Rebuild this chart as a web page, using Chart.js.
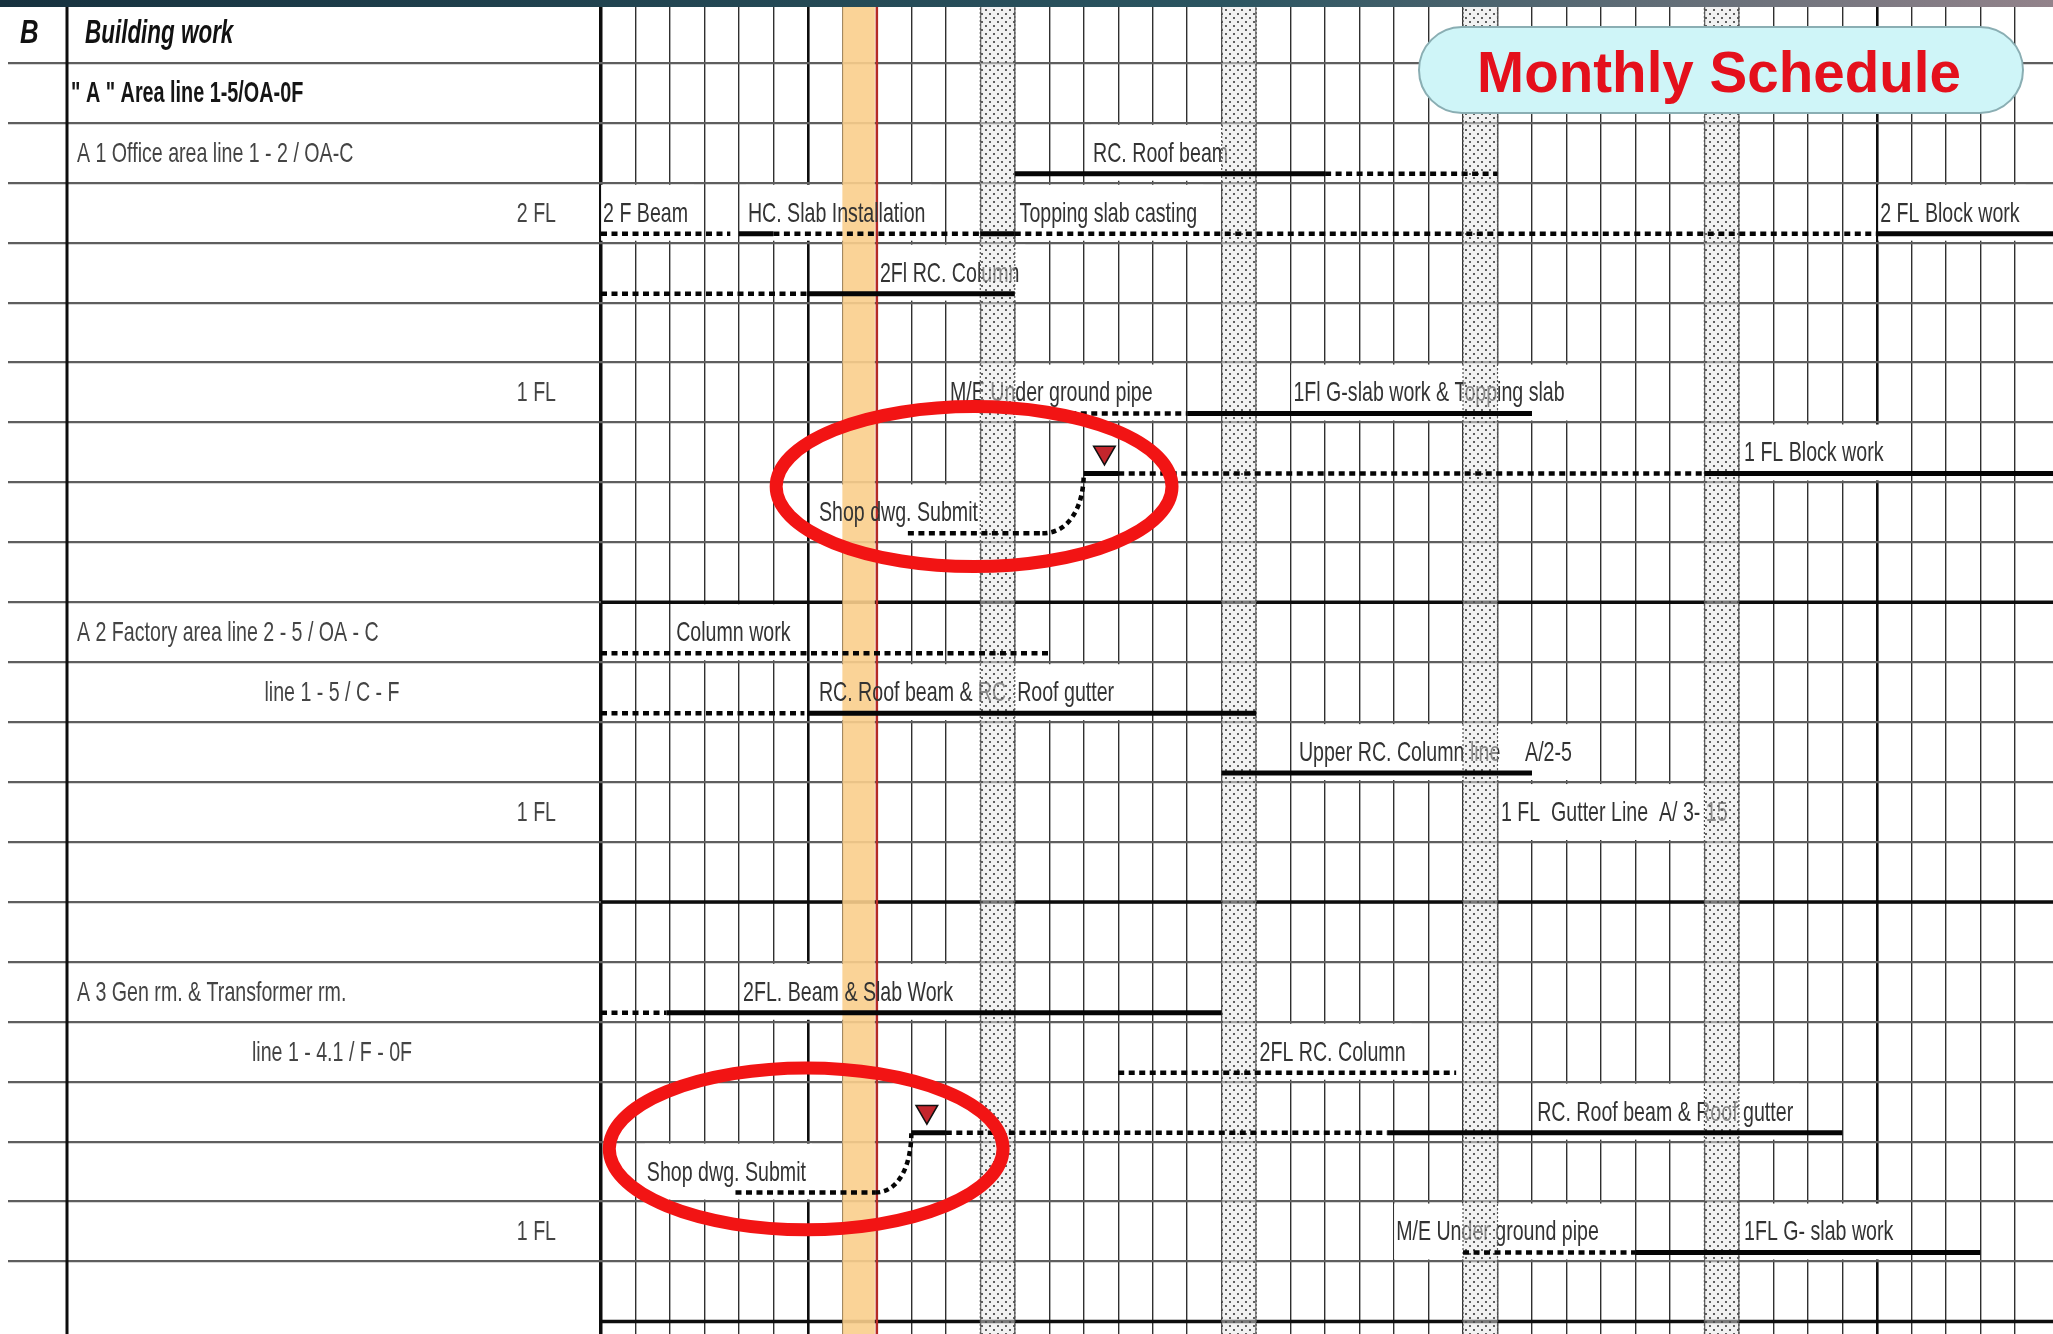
<!DOCTYPE html>
<html>
<head>
<meta charset="utf-8">
<title>Monthly Schedule</title>
<script src="https://cdn.jsdelivr.net/npm/chart.js@4.4.1/dist/chart.umd.min.js"></script>
<style>
    html, body { margin: 0; padding: 0; background: #fff; }
    canvas { display: block; }
</style>
</head>
<body>
<canvas id="schedule" width="2053" height="1334"></canvas>
<script>
// left table, one entry per row (top to bottom)
const sectionCode = "B";
const rowNames = [
    "Building work",
    '" A " Area line 1-5/OA-0F',
    "A 1 Office area line 1 - 2 / OA-C",
    "2 FL", "", "", "1 FL", "", "", "",
    "A 2 Factory area line 2 - 5 / OA - C",
    "line 1 - 5 / C - F",
    "", "1 FL", "", "",
    "A 3 Gen rm. & Transformer rm.",
    "line 1 - 4.1 / F - 0F",
    "", "", "1 FL", ""
];

// day columns: 0 = first column on the sheet
const monthStarts = [0, 6, 37];
const holidayCols = [11, 18, 25, 32];
const todayCol = 7;

// [row, from day, to day]
const solidBars = [
    [2, 12, 21], [3, 4, 5], [3, 11, 12], [3, 37, 42.5], [4, 6, 12],
    [6, 17, 27], [7, 14, 15], [7, 32, 42.5], [11, 6, 19], [12, 18, 27],
    [16, 1.9, 18], [18, 9, 10], [18, 22.8, 36], [20, 30, 40]
];
const dottedBars = [
    [2, 21, 26], [3, 0, 3.75], [3, 5, 11], [3, 12, 37], [4, 0, 6],
    [6, 13, 17], [7, 15, 32], [8, 8.9, 12.8], [10, 0, 13], [11, 0, 5.9],
    [16, 0, 1.9], [17, 15, 24.8], [18, 10, 22.8], [19, 3.9, 7.95], [20, 25, 30]
];

// [row, day, text]
const taskNotes = [
    [2, 14.27, "RC. Roof beam"],
    [3, 0.06, "2 F Beam"],
    [3, 4.26, "HC. Slab Installation"],
    [3, 12.14, "Topping slab casting"],
    [3, 37.1, "2 FL Block work"],
    [4, 8.09, "2Fl RC. Column"],
    [6, 10.12, "M/E Under ground pipe"],
    [6, 20.08, "1Fl G-slab work & Topping slab"],
    [7, 33.15, "1 FL Block work"],
    [8, 6.32, "Shop dwg. Submit"],
    [10, 2.18, "Column work"],
    [11, 6.32, "RC. Roof beam & RC. Roof gutter"],
    [12, 20.24, "Upper RC. Column line"],
    [12, 26.8, "A/2-5"],
    [13, 26.1, "1 FL  Gutter Line  A/ 3- 15"],
    [16, 4.12, "2FL. Beam & Slab Work"],
    [17, 19.1, "2FL RC. Column"],
    [18, 27.15, "RC. Roof beam & Roof gutter"],
    [19, 1.33, "Shop dwg. Submit"],
    [20, 23.06, "M/E Under ground pipe"],
    [20, 33.15, "1FL G- slab work"]
];

// [row, day]
const milestones = [[7, 14.6], [18, 9.45]];
// [from row, from day, to row, to day]
const links = [[8, 12.8, 7, 14], [19, 7.95, 18, 9]];
// [centre day, centre row, half width (days), half height (rows)]
const callouts = [[10.82, 8.07, 5.74, 1.335], [5.95, 19.12, 5.71, 1.35]];
const titleText = "Monthly Schedule";

const X_MIN = -17.43, X_MAX = 42.11;
const Y_MIN = -0.05, Y_MAX = 22.21;
const BAR_AT = 0.85, NOTE_AT = 0.52, MARK_AT = 0.5;

const NOTE_FONT = "28px 'Liberation Sans', Arial, sans-serif";
const SQUEEZE = 0.7;

function isWhole(v) {
    return Math.abs(v - Math.round(v)) < 1e-6;
}

function squeezeText(ctx, text, x, y, font, color, squeeze, align) {
    ctx.save();
    ctx.font = font;
    ctx.fillStyle = color;
    ctx.textBaseline = "middle";
    ctx.textAlign = "left";
    const w = ctx.measureText(text).width * squeeze;
    let left = x;
    if (align === "right") left = x - w;
    if (align === "center") left = x - w / 2;
    ctx.translate(left, y);
    ctx.scale(squeeze, 1);
    ctx.fillText(text, 0, 0);
    ctx.restore();
    return w;
}

function makeStipple() {
    const tile = document.createElement("canvas");
    tile.width = 8;
    tile.height = 8;
    const t = tile.getContext("2d");
    t.fillStyle = "rgba(230,230,230,0.5)";
    t.fillRect(0, 0, 8, 8);
    t.fillStyle = "rgba(70,70,70,0.85)";
    t.fillRect(1, 1, 2, 2);
    t.fillRect(5, 5, 2, 2);
    return tile;
}

const scheduleDecor = {
    id: "scheduleDecor",
    beforeDatasetsDraw(chart) {
        const ctx = chart.ctx;
        const xs = chart.scales.x;
        const ys = chart.scales.y;
        const W = chart.width, H = chart.height;
        const x0 = xs.getPixelForValue(0);

        ctx.save();
        // blank margin left of the table
        ctx.fillStyle = "#fff";
        ctx.fillRect(0, 0, 8, H);

        // heavy separators between the areas
        ctx.strokeStyle = "#0d0d0d";
        ctx.lineWidth = 3.5;
        [10, 15, 22].forEach((r) => {
            const y = ys.getPixelForValue(r);
            ctx.beginPath();
            ctx.moveTo(x0, y);
            ctx.lineTo(W, y);
            ctx.stroke();
        });
        // table column divider
        ctx.lineWidth = 3;
        ctx.beginPath();
        ctx.moveTo(67, 0);
        ctx.lineTo(67, H);
        ctx.stroke();

        // white text boxes behind the task notes
        ctx.font = NOTE_FONT;
        taskNotes.forEach(([row, day, text]) => {
            const w = ctx.measureText(text).width * SQUEEZE;
            const left = xs.getPixelForValue(day) - 2;
            const top = ys.getPixelForValue(row) + 2;
            const bottom = ys.getPixelForValue(row + 1) - 2;
            ctx.fillStyle = "#fff";
            ctx.fillRect(left, top, w + 8, bottom - top);
        });

        // today column
        const tl = xs.getPixelForValue(todayCol);
        const tr = xs.getPixelForValue(todayCol + 1);
        ctx.fillStyle = "rgba(250, 206, 140, 0.9)";
        ctx.fillRect(tl, 0, tr - tl - 2, H);
        ctx.strokeStyle = "#b52a25";
        ctx.lineWidth = 2.5;
        ctx.beginPath();
        ctx.moveTo(tr, 0);
        ctx.lineTo(tr, H);
        ctx.stroke();
        ctx.restore();

        // left table texts
        squeezeText(ctx, sectionCode, 20, ys.getPixelForValue(NOTE_AT),
            "italic bold 33px 'Liberation Sans', Arial, sans-serif", "#111", 0.78, "left");
        rowNames.forEach((name, row) => {
            if (!name) return;
            const y = ys.getPixelForValue(row + NOTE_AT);
            if (row === 0) {
                squeezeText(ctx, name, 85, y,
                    "italic bold 33px 'Liberation Sans', Arial, sans-serif", "#111", 0.68, "left");
            } else if (name.startsWith('"')) {
                squeezeText(ctx, name, 71, y,
                    "bold 30px 'Liberation Sans', Arial, sans-serif", "#151515", 0.66, "left");
            } else if (name.startsWith("line")) {
                squeezeText(ctx, name, 332, y, NOTE_FONT, "#444", SQUEEZE, "center");
            } else if (name.endsWith("FL")) {
                squeezeText(ctx, name, 556, y, NOTE_FONT, "#444", SQUEEZE, "right");
            } else {
                squeezeText(ctx, name, 77, y, NOTE_FONT, "#444", SQUEEZE, "left");
            }
        });

        // task notes
        taskNotes.forEach(([row, day, text]) => {
            squeezeText(ctx, text, xs.getPixelForValue(day), ys.getPixelForValue(row + NOTE_AT),
                NOTE_FONT, "#333", SQUEEZE, "left");
        });

        // holiday columns (stippled)
        ctx.save();
        const pattern = ctx.createPattern(makeStipple(), "repeat");
        holidayCols.forEach((c) => {
            const l = xs.getPixelForValue(c);
            const r = xs.getPixelForValue(c + 1);
            ctx.fillStyle = pattern;
            ctx.fillRect(l, 0, r - l, H);
            ctx.strokeStyle = "#555";
            ctx.lineWidth = 1.2;
            ctx.setLineDash([2, 2]);
            [l, r].forEach((x) => {
                ctx.beginPath();
                ctx.moveTo(x, 0);
                ctx.lineTo(x, H);
                ctx.stroke();
            });
        });
        ctx.restore();
    },
    afterDatasetsDraw(chart) {
        const ctx = chart.ctx;
        const xs = chart.scales.x;
        const ys = chart.scales.y;
        const W = chart.width;

        ctx.save();
        // links from shop drawing submission to the following work
        ctx.strokeStyle = "#050505";
        ctx.lineWidth = 4.5;
        ctx.setLineDash([5, 4]);
        links.forEach(([r1, d1, r2, d2]) => {
            const x1 = xs.getPixelForValue(d1), y1 = ys.getPixelForValue(r1 + BAR_AT);
            const x2 = xs.getPixelForValue(d2), y2 = ys.getPixelForValue(r2 + BAR_AT);
            ctx.beginPath();
            ctx.moveTo(x1, y1);
            ctx.bezierCurveTo(x1 + (x2 - x1) * 0.65, y1, x2, y1 + (y2 - y1) * 0.45, x2, y2);
            ctx.stroke();
        });
        ctx.setLineDash([]);

        // red callout rings
        ctx.strokeStyle = "#f21414";
        ctx.lineWidth = 13;
        callouts.forEach(([d, r, hw, hh]) => {
            const cx = xs.getPixelForValue(d), cy = ys.getPixelForValue(r);
            const rx = Math.abs(xs.getPixelForValue(d + hw) - cx);
            const ry = Math.abs(ys.getPixelForValue(r + hh) - cy);
            ctx.beginPath();
            ctx.ellipse(cx, cy, rx, ry, 0, 0, Math.PI * 2);
            ctx.stroke();
        });

        // title badge
        const bx = 1419, by = 27, bw = 604, bh = 86;
        ctx.beginPath();
        ctx.roundRect(bx, by, bw, bh, bh / 2);
        ctx.fillStyle = "#cff5f8";
        ctx.fill();
        ctx.strokeStyle = "#8aaeb3";
        ctx.lineWidth = 2;
        ctx.stroke();
        ctx.restore();
        ctx.save();
        ctx.font = "bold 58px 'Liberation Sans', Arial, sans-serif";
        ctx.fillStyle = "#e4101c";
        ctx.textBaseline = "alphabetic";
        const tw = ctx.measureText(titleText).width * 0.975;
        ctx.translate(bx + bw / 2 - tw / 2 - 2, 92);
        ctx.scale(0.975, 1);
        ctx.fillText(titleText, 0, 0);
        ctx.restore();

        // slide header strip
        ctx.save();
        const g = ctx.createLinearGradient(0, 0, W, 0);
        g.addColorStop(0, "#17323f");
        g.addColorStop(0.6, "#2b5561");
        g.addColorStop(1, "#93838b");
        ctx.fillStyle = g;
        ctx.fillRect(0, 0, W, 7);
        ctx.restore();
    }
};

const datasets = [];
solidBars.forEach(([row, from, to]) => {
    datasets.push({
        label: "work",
        data: [{ x: from, y: row + BAR_AT }, { x: to, y: row + BAR_AT }],
        borderColor: "#050505",
        borderWidth: 5,
        borderCapStyle: "butt",
        pointRadius: 0,
        fill: false,
    });
});
dottedBars.forEach(([row, from, to]) => {
    datasets.push({
        label: "revised",
        data: [{ x: from, y: row + BAR_AT }, { x: to, y: row + BAR_AT }],
        borderColor: "#050505",
        borderWidth: 4.5,
        borderDash: [6, 4.5],
        borderCapStyle: "butt",
        pointRadius: 0,
        fill: false,
    });
});
datasets.push({
    type: "scatter",
    label: "submit",
    data: milestones.map(([row, day]) => ({ x: day, y: row + MARK_AT })),
    pointStyle: "triangle",
    pointRotation: 180,
    pointRadius: 12.5,
    pointBackgroundColor: "#c3262d",
    pointBorderColor: "#111",
    pointBorderWidth: 1.5,
});

new Chart(document.getElementById("schedule").getContext("2d"), {
    type: "line",
    data: { datasets },
    options: {
        responsive: false,
        animation: false,
        layout: { padding: 0, autoPadding: false },
        plugins: {
            legend: { display: false },
            tooltip: { enabled: false },
            title: { display: false },
        },
        scales: {
            x: {
                type: "linear",
                min: X_MIN,
                max: X_MAX,
                afterFit: (scale) => { scale.height = 0; },
                ticks: { display: false, stepSize: 1 },
                border: { display: false },
                grid: {
                    drawTicks: false,
                    color: (c) => {
                        const v = c.tick ? c.tick.value : -1;
                        if (v < 0 || v > 42 || !isWhole(v)) return "rgba(0,0,0,0)";
                        return monthStarts.includes(Math.round(v)) ? "#0d0d0d" : "#303030";
                    },
                    lineWidth: (c) => {
                        const v = c.tick ? Math.round(c.tick.value) : -1;
                        if (v === 0) return 3.5;
                        return monthStarts.includes(v) ? 2.6 : 1.4;
                    },
                },
            },
            y: {
                type: "linear",
                reverse: true,
                min: Y_MIN,
                max: Y_MAX,
                afterFit: (scale) => { scale.width = 0; },
                ticks: { display: false, stepSize: 1 },
                border: { display: false },
                grid: {
                    drawTicks: false,
                    color: (c) => {
                        const v = c.tick ? c.tick.value : -1;
                        return v >= 0 && isWhole(v) ? "#5e5e5e" : "rgba(0,0,0,0)";
                    },
                    lineWidth: 2.2,
                },
            },
        },
    },
    plugins: [scheduleDecor],
});
</script>
</body>
</html>
